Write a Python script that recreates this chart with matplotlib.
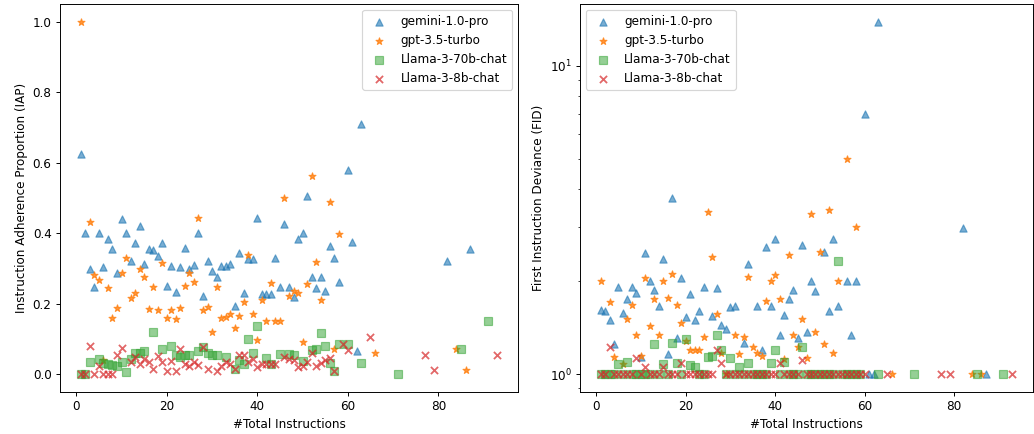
import matplotlib
matplotlib.use("Agg")
import matplotlib.pyplot as plt

# IAP values
gemini_iap_x = [1,2,3,4,5,6,7,8,9,10,11,12,13,14,15,16,17,18,19,20,21,22,23,24,25,26,27,28,29,30,
                31,32,33,34,35,36,37,38,39,40,41,42,43,44,45,46,47,48,49,50,51,52,53,54,55,56,57,58,
                60,61,62,63,82,87]
gemini_iap_y = [0.625,0.40,0.30,0.249,0.40,0.304,0.383,0.355,0.286,0.44,0.402,0.322,0.373,0.42,0.313,
                0.355,0.352,0.336,0.373,0.251,0.306,0.234,0.303,0.357,0.30,0.309,0.40,0.223,0.321,0.294,
                0.277,0.308,0.306,0.314,0.194,0.343,0.23,0.327,0.327,0.443,0.228,0.228,0.228,0.331,0.249,
                0.427,0.249,0.218,0.385,0.40,0.506,0.275,0.245,0.275,0.235,0.364,0.331,0.263,
                0.58,0.376,0.066,0.711,0.322,0.355]

gpt_iap_x = [1,3,4,5,6,7,8,9,10,11,12,13,14,15,16,17,18,19,20,21,22,23,24,25,26,27,28,29,30,
             31,32,33,34,35,36,37,38,39,40,41,42,43,44,45,46,47,48,49,50,51,52,53,54,56,57,58,66,84,86]
gpt_iap_y = [1.0,0.433,0.282,0.267,0.041,0.244,0.159,0.187,0.287,0.329,0.216,0.232,0.30,0.275,0.184,
             0.249,0.182,0.315,0.159,0.182,0.156,0.187,0.251,0.286,0.262,0.444,0.183,0.192,0.12,
             0.249,0.159,0.162,0.171,0.132,0.166,0.206,0.339,0.171,0.098,0.211,0.151,0.258,0.151,0.151,
             0.50,0.223,0.235,0.231,0.093,0.256,0.562,0.319,0.211,0.49,0.072,0.397,0.06,0.072,0.013]

l70_iap_x = [1,2,3,5,6,7,8,9,10,11,12,13,14,15,17,19,21,22,23,24,25,27,28,29,30,31,33,35,36,37,
             38,39,40,42,43,45,47,48,50,52,53,54,55,56,57,58,60,63,71,85,91]
l70_iap_y = [0.0,0.0,0.034,0.044,0.032,0.03,0.026,0.024,0.035,0.006,0.044,0.06,0.06,0.066,0.121,0.072,
             0.08,0.054,0.049,0.054,0.054,0.066,0.077,0.061,0.056,0.056,0.049,0.016,0.04,0.028,
             0.10,0.06,0.136,0.045,0.028,0.058,0.058,0.056,0.037,0.068,0.071,0.118,0.08,0.033,0.009,
             0.085,0.085,0.033,0.002,0.071,0.152]

l8_iap_x = [1,2,3,4,5,6,7,8,9,10,12,13,14,15,16,17,18,19,20,21,22,23,24,25,26,27,28,29,31,32,
            33,34,35,36,37,38,39,40,41,42,43,44,46,47,48,49,50,51,52,53,54,55,56,57,59,60,65,77,79,93]
l8_iap_y = [0,0,0.08,0,0.025,0,0,0,0.054,0.074,0.036,0.049,0.03,0.044,0.036,0.015,0.052,0.035,0.009,
            0.037,0.009,0.071,0.028,0.023,0.036,0.026,0.077,0.016,0.009,0.024,0.035,0.03,0.016,0.056,
            0.056,0.035,0.044,0.021,0.03,0.03,0.03,0.03,0.049,0.044,0.041,0.021,0.025,0.035,0.06,
            0.023,0.032,0.04,0.047,0.009,0.087,0.068,0.107,0.054,0.013,0.056]

# FID values
gemini_fid_x = [1,2,3,4,5,6,7,8,9,10,11,12,13,14,15,16,17,18,19,20,21,22,23,24,26,27,28,29,30,31,
                33,34,36,37,38,39,40,41,42,43,44,45,46,47,48,49,51,52,53,54,56,57,58,60,61,62,63,82,87]
gemini_fid_y = [1.62,1.61,1.50,1.25,1.92,1.58,1.75,1.92,1.83,1.14,2.48,2.0,1.87,1.67,2.36,1.16,3.72,
                1.31,2.06,1.53,1.82,1.50,1.61,1.92,1.55,1.91,1.45,1.40,1.65,1.66,1.26,2.28,1.67,1.20,
                2.58,1.67,2.74,1.34,1.56,1.75,1.87,1.31,2.62,1.37,2.0,1.86,2.49,1.6,2.74,1.67,2.0,
                1.34,2.0,6.98,1.0,1.0,13.9,2.99,1.0]

gpt_fid_x = [1,3,4,6,7,8,9,10,11,12,13,14,15,16,17,18,19,20,21,22,23,24,25,26,27,28,29,31,32,33,
             34,35,36,37,38,39,40,41,42,43,44,45,46,47,48,49,50,51,52,53,54,56,58,66,84,86]
gpt_fid_y = [2.01,1.71,1.14,1.08,1.51,1.68,1.34,1.15,2.06,1.43,1.76,1.34,2.01,1.77,2.11,1.68,1.47,
             1.28,1.20,1.20,1.20,1.32,3.35,2.40,1.57,1.17,1.0,1.34,1.16,1.32,2.07,1.23,1.17,1.15,
             1.73,2.0,2.10,1.75,1.12,2.43,1.34,1.23,1.51,1.13,3.30,1.37,2.49,1.25,3.41,1.17,2.01,
             4.98,3.0,1.0,1.0,1.0]

l70_fid_x = [1,2,3,4,5,6,7,8,9,10,11,12,13,14,15,16,17,18,19,20,21,22,23,24,25,26,27,28,29,30,
             31,32,33,34,35,36,37,38,39,40,41,42,43,44,45,46,47,48,49,50,51,52,53,54,55,56,57,58,
             59,63,71,85,91]
l70_fid_y = [1,1,1,1,1.08,1,1.10,1,1,1,1,1,1.25,1,1.08,1,1.26,1.09,1,1.30,1.07,1.06,1,1,1.14,1.15,
             1.34,1.20,1,1.13,1,1.06,1,1.09,1,1,1,1,1.09,1.20,1,1.10,1,1,1,1.23,1,1,1,1,1,1,1,
             2.33,1,1,1,1,1,1,1,1,1]

l8_fid_x = [1,2,3,4,5,6,7,8,9,10,11,12,13,14,15,16,17,18,19,20,21,22,23,24,25,26,27,28,29,30,
            31,32,33,34,35,36,37,38,39,40,41,42,43,44,45,46,47,48,49,50,51,52,53,54,55,56,57,58,
            59,60,65,77,79,93]
l8_fid_y = [1,1,1.23,1,1,1,1,1,1.13,1,1.06,1,1,1,1.06,1,1,1,1.09,1,1,1,1,1,1,1,1.20,1.09,1,1,
            1,1,1,1,1,1,1,1,1,1,1.09,1,1,1,1,1.11,1,1,1,1,1,1,1,1,1,1,1,1,
            1,1,1,1,1,1]

models = ["gemini-1.0-pro", "gpt-3.5-turbo", "Llama-3-70b-chat", "Llama-3-8b-chat"]

# the original looks like a 12in wide figure shrunk down, so use a lower dpi
fig = plt.figure(figsize=(12, 434 / (1034 / 12)), dpi=1034 / 12)
ax1 = fig.add_axes([60/1034, 42/434, 458/1034, 388/434])
ax2 = fig.add_axes([580/1034, 42/434, 453/1034, 388/434])

# left: IAP
ax1.scatter(gemini_iap_x, gemini_iap_y, marker='^', color='tab:blue', alpha=0.6, label=models[0])
ax1.scatter(gpt_iap_x, gpt_iap_y, marker='*', color='tab:orange', alpha=0.8, label=models[1])
ax1.scatter(l70_iap_x, l70_iap_y, marker='s', color='tab:green', alpha=0.5, label=models[2])
ax1.scatter(l8_iap_x, l8_iap_y, marker='x', color='tab:red', alpha=0.7, label=models[3])
ax1.set_xlabel("#Total Instructions")
ax1.set_ylabel("Instruction Adherence Proportion (IAP)")
ax1.legend(loc='upper right')

# right: FID on log scale
ax2.scatter(gemini_fid_x, gemini_fid_y, marker='^', color='tab:blue', alpha=0.6, label=models[0])
ax2.scatter(gpt_fid_x, gpt_fid_y, marker='*', color='tab:orange', alpha=0.8, label=models[1])
ax2.scatter(l70_fid_x, l70_fid_y, marker='s', color='tab:green', alpha=0.5, label=models[2])
ax2.scatter(l8_fid_x, l8_fid_y, marker='x', color='tab:red', alpha=0.7, label=models[3])
ax2.set_yscale('log')
ax2.set_xlabel("#Total Instructions")
ax2.set_ylabel("First Instruction Deviance (FID)")
ax2.legend(loc='upper left')

plt.savefig("out.png")
